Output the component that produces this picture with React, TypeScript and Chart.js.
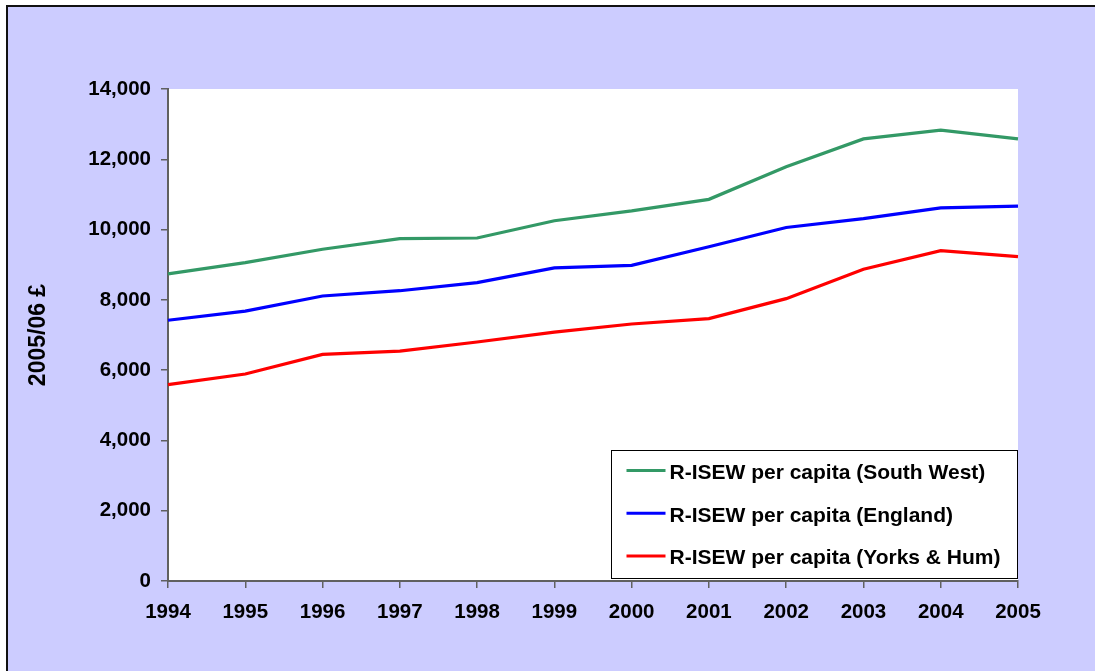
import React, { useEffect, useRef } from "react";
import { Chart, registerables } from "chart.js";

Chart.register(...registerables);

const years = ["1994", "1995", "1996", "1997", "1998", "1999", "2000", "2001", "2002", "2003", "2004", "2005"];
const southWest = [8740, 9060, 9440, 9740, 9760, 10250, 10530, 10860, 11790, 12580, 12830, 12580];
const england = [7420, 7680, 8110, 8260, 8490, 8910, 8980, 9510, 10060, 10310, 10615, 10670];
const yorksHum = [5590, 5890, 6450, 6540, 6800, 7080, 7313, 7465, 8034, 8869, 9400, 9230];
const seriesLabels = [
  "R-ISEW per capita (South West)",
  "R-ISEW per capita (England)",
  "R-ISEW per capita (Yorks & Hum)",
];
const seriesColors = ["#339966", "#0000FF", "#FF0000"];
const yAxisTitle = "2005/06 £";

const FONT = "'Liberation Sans', Arial, sans-serif";

const plotBg = {
  id: "plotBg",
  beforeDraw(chart: any) {
    const { ctx, chartArea } = chart;
    ctx.save();
    ctx.fillStyle = "#FFFFFF";
    ctx.fillRect(chartArea.left, chartArea.top, chartArea.right - chartArea.left, chartArea.bottom - chartArea.top);
    ctx.restore();
  },
};

const boxLegend = {
  id: "boxLegend",
  afterDatasetsDraw(chart: any) {
    const { ctx, chartArea } = chart;
    const w = 406;
    const h = 128;
    const x = Math.round(chartArea.right - w - 1) + 0.5;
    const y = Math.round(chartArea.bottom - h - 3) + 0.5;
    ctx.save();
    ctx.fillStyle = "#FFFFFF";
    ctx.fillRect(x, y, w, h);
    ctx.strokeStyle = "#000000";
    ctx.lineWidth = 1;
    ctx.strokeRect(x, y, w, h);
    chart.data.datasets.forEach((ds: any, i: number) => {
      const cy = y + 20 + i * 42.8;
      ctx.strokeStyle = ds.borderColor;
      ctx.lineWidth = 3;
      ctx.beginPath();
      ctx.moveTo(x + 15, cy);
      ctx.lineTo(x + 54, cy);
      ctx.stroke();
      ctx.fillStyle = "#000000";
      ctx.font = `bold 21px ${FONT}`;
      ctx.textBaseline = "middle";
      ctx.textAlign = "left";
      ctx.fillText(ds.label, x + 58, cy + 2.5);
    });
    ctx.restore();
  },
};

export default function App() {
  const ref = useRef<HTMLCanvasElement | null>(null);

  useEffect(() => {
    if (!ref.current) return;
    const chart = new Chart(ref.current, {
      type: "line",
      data: {
        labels: years,
        datasets: [southWest, england, yorksHum].map((d, i) => ({
          label: seriesLabels[i],
          data: d,
          borderColor: seriesColors[i],
          backgroundColor: seriesColors[i],
          borderWidth: 3.2,
          pointRadius: 0,
          tension: 0,
          fill: false,
        })),
      },
      options: {
        animation: false,
        responsive: false,
        devicePixelRatio: 1,
        layout: { padding: { left: 0, top: 89, right: 77, bottom: 0 } },
        plugins: {
          legend: { display: false },
          tooltip: { enabled: false },
        },
        scales: {
          x: {
            type: "category",
            offset: false,
            afterFit(scale: any) {
              scale.height = 90;
            },
            grid: {
              display: true,
              drawOnChartArea: false,
              drawTicks: true,
              tickLength: 7,
              color: "#606060",
              lineWidth: 1.5,
            },
            border: { display: true, color: "#606060", width: 2 },
            ticks: {
              color: "#000000",
              font: { family: FONT, size: 20.5, weight: "bold" },
              padding: 12,
              maxRotation: 0,
              autoSkip: false,
            },
          },
          y: {
            min: 0,
            max: 14000,
            afterFit(scale: any) {
              scale.width = 168;
            },
            grid: {
              display: true,
              drawOnChartArea: false,
              drawTicks: true,
              tickLength: 7,
              color: "#606060",
              lineWidth: 1.5,
            },
            border: { display: true, color: "#606060", width: 2 },
            ticks: {
              stepSize: 2000,
              color: "#000000",
              font: { family: FONT, size: 20.5, weight: "bold" },
              padding: 10,
              callback: (v: any) => Number(v).toLocaleString("en-US"),
            },
            title: {
              display: true,
              text: yAxisTitle,
              color: "#000000",
              font: { family: FONT, size: 23, weight: "bold" },
              padding: { top: 25, bottom: 0 },
            },
          },
        },
      },
      plugins: [plotBg, boxLegend],
    });
    return () => chart.destroy();
  }, []);

  return (
    <div
      style={{
        position: "fixed",
        left: 0,
        top: 0,
        width: 1095,
        height: 671,
        overflow: "hidden",
        background: "#FFFFFF",
      }}
    >
      <div
        style={{
          position: "absolute",
          left: 6,
          top: 5,
          width: 1200,
          height: 800,
          background: "#CCCCFF",
          border: "2px solid #111111",
        }}
      />
      <canvas
        ref={ref}
        width={1095}
        height={671}
        style={{ position: "absolute", left: 0, top: 0, width: 1095, height: 671 }}
      />
    </div>
  );
}
